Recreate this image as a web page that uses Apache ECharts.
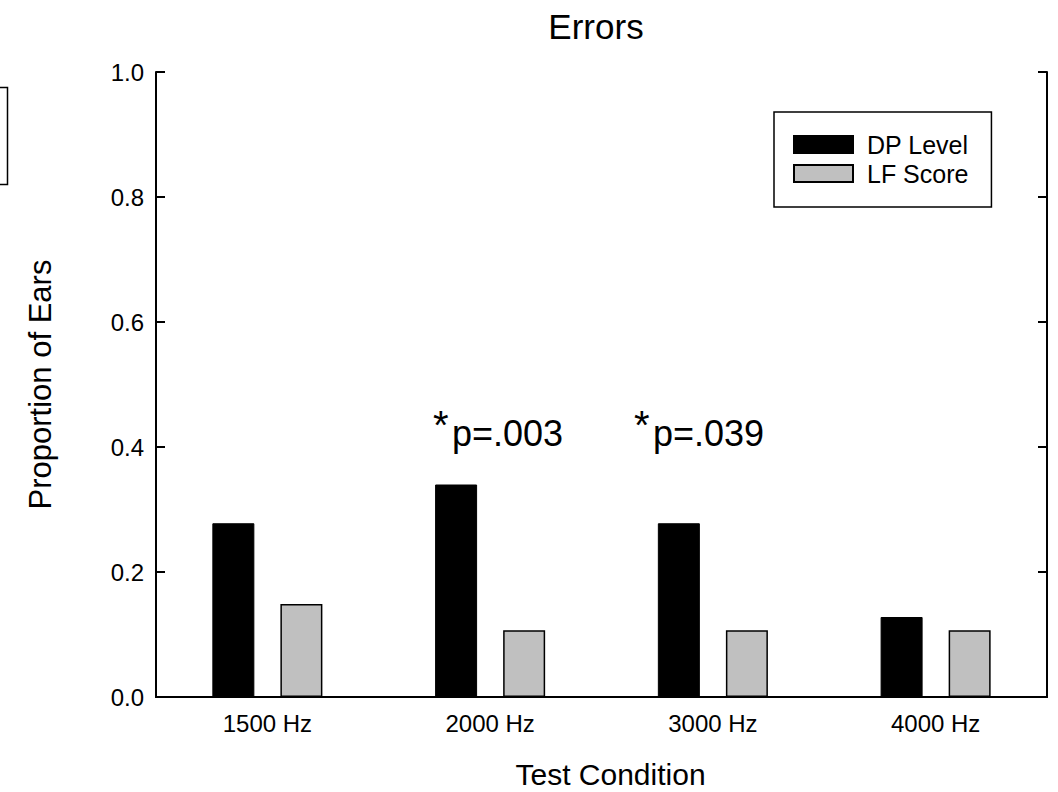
<!DOCTYPE html>
<html>
<head>
<meta charset="utf-8">
<script src="https://cdn.jsdelivr.net/npm/echarts@6/dist/echarts.min.js"></script>
<style>
  html, body { margin: 0; padding: 0; background: #fff; }
  #chart { width: 1058px; height: 792px; }
</style>
</head>
<body>
<div id="chart"></div>
<script>
// Test conditions and the proportion of ears with errors for each measure
const categories = ['1500 Hz', '2000 Hz', '3000 Hz', '4000 Hz'];
const dpLevel = [0.278, 0.340, 0.278, 0.128];
const lfScore = [0.149, 0.107, 0.107, 0.107];
const seriesNames = ['DP Level', 'LF Score'];

// Significance notes above the 2000 Hz and 3000 Hz groups
const noteText = ['p=.003', 'p=.039'];
const noteLeft = [452, 653];

const FONT = '"Liberation Sans", Arial, Helvetica, sans-serif';
const chart = echarts.init(document.getElementById('chart'), null, { renderer: 'svg' });

const gridTop = 72, gridLeft = 156, gridW = 891, gridH = 625;

chart.setOption({
  animation: false,
  backgroundColor: '#fff',
  textStyle: { fontFamily: FONT, color: '#000' },
  title: {
    text: 'Errors',
    left: 591, top: 4,
    textAlign: 'center',
    textStyle: { fontFamily: FONT, fontSize: 35, fontWeight: 'normal', color: '#000' }
  },
  legend: {
    data: seriesNames,
    orient: 'vertical',
    left: 774, top: 112,
    padding: [20, 23, 21, 19],
    itemWidth: 59, itemHeight: 17, itemGap: 4,
    icon: 'rect',
    borderColor: '#000', borderWidth: 1.5, borderRadius: 0,
    backgroundColor: '#fff',
    textStyle: { fontFamily: FONT, fontSize: 25, color: '#000', padding: [0, 0, 0, 9] }
  },
  grid: {
    left: gridLeft, top: gridTop, width: gridW, height: gridH,
    containLabel: false, outerBoundsMode: 'none'
  },
  xAxis: [
    {
      type: 'category',
      data: categories,
      position: 'bottom',
      name: 'Test Condition',
      nameLocation: 'middle',
      nameGap: 62,
      nameTextStyle: { fontFamily: FONT, fontSize: 30, color: '#000', padding: [0, 0, 0, 18] },
      axisLine: { lineStyle: { color: '#000', width: 2 } },
      axisTick: { inside: true, length: 9, alignWithLabel: true, lineStyle: { color: '#000', width: 2 } },
      axisLabel: { fontFamily: FONT, fontSize: 24, color: '#000', margin: 14 },
      splitLine: { show: false }
    },
    {
      type: 'category',
      data: categories,
      position: 'top',
      axisLine: { lineStyle: { color: '#000', width: 2 } },
      axisTick: { show: false },
      axisLabel: { show: false },
      splitLine: { show: false }
    }
  ],
  yAxis: [
    {
      type: 'value',
      min: 0, max: 1, interval: 0.2,
      position: 'left',
      name: 'Proportion of Ears',
      nameLocation: 'middle',
      nameGap: 100,
      nameTextStyle: { fontFamily: FONT, fontSize: 31, color: '#000' },
      axisLine: { show: true, lineStyle: { color: '#000', width: 2 } },
      axisTick: { show: true, inside: true, length: 9, lineStyle: { color: '#000', width: 2 } },
      axisLabel: { fontFamily: FONT, fontSize: 24, color: '#000', margin: 12, formatter: v => v.toFixed(1) },
      splitLine: { show: false }
    },
    {
      type: 'value',
      min: 0, max: 1, interval: 0.2,
      position: 'right',
      axisLine: { show: true, lineStyle: { color: '#000', width: 2 } },
      axisTick: { show: true, inside: true, length: 9, lineStyle: { color: '#000', width: 2 } },
      axisLabel: { show: false },
      splitLine: { show: false }
    }
  ],
  series: [
    {
      name: seriesNames[0],
      type: 'bar',
      data: dpLevel,
      barWidth: 42,
      barGap: '62%',
      itemStyle: { color: '#000', borderColor: '#000', borderWidth: 1 }
    },
    {
      name: seriesNames[1],
      type: 'bar',
      data: lfScore,
      barWidth: 42,
      itemStyle: { color: '#c0c0c0', borderColor: '#000', borderWidth: 1.5 }
    }
  ]
});

// Significance notes: a raised asterisk followed by the p value,
// plus the edge of a framed box that runs off the left side
const noteElems = [
  {
    type: 'rect', left: -20, top: 85,
    shape: { x: 0, y: 0, width: 25, height: 97 },
    style: { fill: 'none', stroke: '#000', lineWidth: 1.5 }
  }
];
noteText.forEach((t, i) => {
  noteElems.push({
    type: 'text', left: noteLeft[i] - 19, top: 405,
    style: { text: '*', font: '40px ' + FONT, fill: '#000' }
  });
  noteElems.push({
    type: 'text', left: noteLeft[i], top: 415,
    style: { text: t, font: '36px ' + FONT, fill: '#000' }
  });
});
chart.setOption({ graphic: noteElems });
</script>
</body>
</html>
